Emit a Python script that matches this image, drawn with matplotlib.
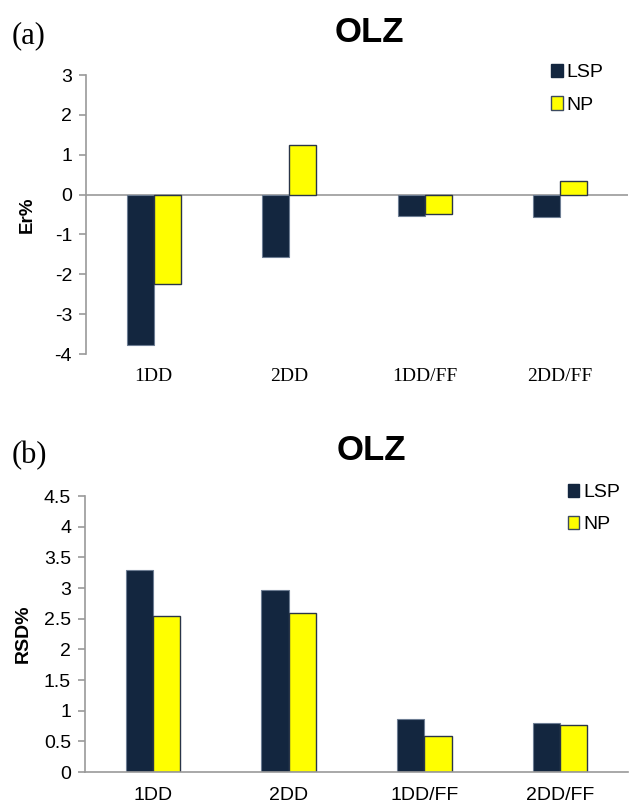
import numpy as np
import matplotlib.pyplot as plt
from matplotlib.patches import Patch

categories = ["1DD", "2DD", "1DD/FF", "2DD/FF"]
series = ["LSP", "NP"]

er_lsp = [-3.77, -1.57, -0.54, -0.57]
er_np = [-2.24, 1.25, -0.50, 0.35]

rsd_lsp = [3.29, 2.96, 0.87, 0.80]
rsd_np = [2.55, 2.60, 0.58, 0.76]

er_ticks = [-4, -3, -2, -1, 0, 1, 2, 3]
rsd_ticks = [0, 0.5, 1, 1.5, 2, 2.5, 3, 3.5, 4, 4.5]
rsd_ticklabels = ["0", "0.5", "1", "1.5", "2", "2.5", "3", "3.5", "4", "4.5"]

navy = "#13263f"
yellow = "#ffff00"
grey = "#9a9a9a"
sans = "Liberation Sans"
serif = "Liberation Serif"

W, H = 638, 805
fig = plt.figure(figsize=(W / 100, H / 100), dpi=100)


def px_axes(left, top, right, bottom):
    return fig.add_axes([left / W, 1 - bottom / H, (right - left) / W, (bottom - top) / H])


x = np.arange(len(categories))
w = 0.2


def draw(ax, lsp, npv):
    ax.bar(x - w / 2, lsp, w, color=navy, edgecolor="#6d7d93", linewidth=0.8)
    ax.bar(x + w / 2, npv, w, color=yellow, edgecolor="#2a3548", linewidth=1.0)
    ax.set_xlim(-0.5, 3.5)
    for s in ["top", "right"]:
        ax.spines[s].set_visible(False)
    ax.spines["left"].set_color(grey)
    ax.spines["left"].set_linewidth(1.2)
    ax.tick_params(axis="y", colors=grey, length=5, width=1.2, pad=5,
                   labelcolor="black")
    ax.set_xticks(x)
    ax.legend(handles=[Patch(facecolor=navy, edgecolor=navy, label="LSP"),
                       Patch(facecolor=yellow, edgecolor="#3c4a5e", linewidth=1.0, label="NP")],
              frameon=False, loc="upper left", borderaxespad=0, borderpad=0,
              handlelength=0.6, handleheight=0.7, handletextpad=0.2,
              labelspacing=0.75, prop={"family": sans, "size": 14})


# (a) relative error
ax1 = px_axes(86, 75, 628, 354)
draw(ax1, er_lsp, er_np)
ax1.set_ylim(-4, 3)
ax1.set_yticks(er_ticks)
ax1.set_yticklabels([str(v) for v in er_ticks], family=sans, fontsize=14)
ax1.spines["bottom"].set_visible(False)
ax1.axhline(0, color=grey, linewidth=1.2, zorder=0.5)
ax1.set_xticklabels(categories, family=serif, fontsize=14)
ax1.tick_params(axis="x", length=0, pad=10)
ax1.set_ylabel("Er%", family=sans, fontweight="bold", fontsize=13.5)
ax1.yaxis.set_label_coords(-0.093, 0.5)
ax1.get_legend().set_bbox_to_anchor((0.858, 1.04))
fig.text(369 / W, 1 - 33 / H, "OLZ", family=sans, fontweight="bold", fontsize=25,
         ha="center", va="center")
fig.text(12 / W, 1 - 36 / H, "(a)", family=serif, fontsize=22, ha="left", va="center")

# (b) RSD
ax2 = px_axes(85, 496, 628, 772)
draw(ax2, rsd_lsp, rsd_np)
ax2.set_ylim(0, 4.5)
ax2.set_yticks(rsd_ticks)
ax2.set_yticklabels(rsd_ticklabels, family=sans, fontsize=14)
ax2.spines["bottom"].set_color(grey)
ax2.spines["bottom"].set_linewidth(1.2)
ax2.set_xticklabels(categories, family=sans, fontsize=14)
ax2.tick_params(axis="x", length=0, pad=11)
ax2.set_ylabel("RSD%", family=sans, fontweight="bold", fontsize=14)
ax2.yaxis.set_label_coords(-0.098, 0.5)
ax2.get_legend().set_bbox_to_anchor((0.889, 1.045))
fig.text(371 / W, 1 - 450 / H, "OLZ", family=sans, fontweight="bold", fontsize=25,
         ha="center", va="center")
fig.text(12 / W, 1 - 456 / H, "(b)", family=serif, fontsize=22, ha="left", va="center")

fig.savefig("out.png", dpi=100)
